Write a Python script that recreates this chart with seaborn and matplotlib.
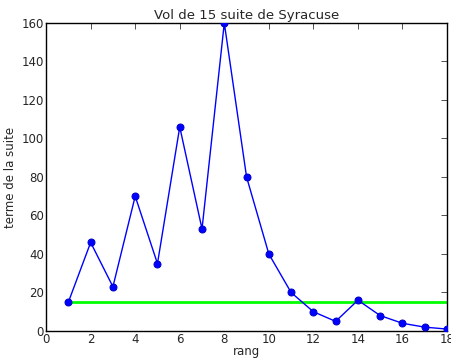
import matplotlib
matplotlib.use("Agg")
import matplotlib.pyplot as plt
import seaborn as sns
import pandas as pd

rang = list(range(1, 19))
termes = [15, 46, 23, 70, 35, 106, 53, 160, 80, 40, 20, 10, 5, 16, 8, 4, 2, 1]
seuil_x = [1, 18]
seuil_y = [15, 15]

sns.set_style("white")
plt.rcParams['font.family'] = ['DejaVu Sans']

fig = plt.figure(figsize=(4.52, 3.59), dpi=100)
ax = fig.add_axes([0.102, 0.078, 0.887, 0.858])

df = pd.DataFrame({"rang": rang, "terme": termes})
sns.lineplot(data=df, x="rang", y="terme", ax=ax, color="#0000ff", lw=1,
             marker="o", markersize=5, markeredgecolor="#0000cc", zorder=3)
sns.lineplot(x=seuil_x, y=seuil_y, ax=ax, color="#00ff00", lw=2, zorder=2)

ax.set_xlim(0, 18)
ax.set_ylim(0, 160)
ax.set_xticks(range(0, 19, 2))
ax.set_yticks(range(0, 161, 20))
ax.tick_params(direction="in", top=True, right=True, length=4, labelsize=8.5,
               color="#333333", width=0.6, pad=1.5)
for s in ax.spines.values():
    s.set_color("black")
    s.set_linewidth(1)
ax.set_xlabel("rang", fontsize=8.5, labelpad=-1)
ax.set_ylabel("terme de la suite", fontsize=8.5, labelpad=3)
ax.set_title("Vol de 15 suite de Syracuse", fontsize=9.5, pad=3)

fig.savefig("out.png", dpi=100)
